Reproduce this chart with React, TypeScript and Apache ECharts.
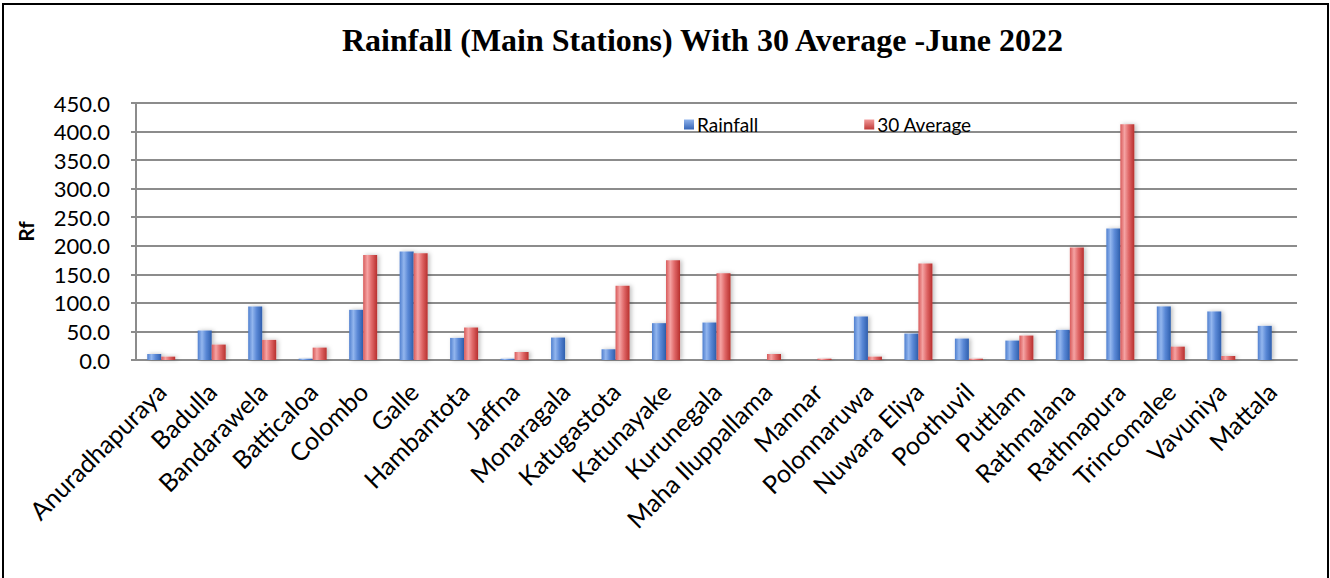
import React, { useEffect, useRef } from "react";
import * as echarts from "echarts";

const stations = [
  "Anuradhapuraya", "Badulla", "Bandarawela", "Batticaloa", "Colombo", "Galle",
  "Hambantota", "Jaffna", "Monaragala", "Katugastota", "Katunayake", "Kurunegala",
  "Maha Iluppallama", "Mannar", "Polonnaruwa", "Nuwara Eliya", "Poothuvil", "Puttlam",
  "Rathmalana", "Rathnapura", "Trincomalee", "Vavuniya", "Mattala",
];
const rainfall = [
  10.5, 51.6, 93.8, 2.3, 87.9, 189.9, 38.7, 2.3, 39.3, 18.8, 64.5, 65.6,
  0, 0, 76.2, 46.3, 37.5, 34.0, 52.8, 230.4, 93.8, 85.0, 59.8,
];
const average30 = [
  5.9, 27.0, 35.2, 21.7, 184.0, 187.0, 56.9, 14.0, 0, 130.0, 174.7, 151.8,
  10.5, 2.3, 5.9, 168.8, 2.3, 42.8, 197.0, 413.0, 23.4, 7.0, 0,
];
const seriesNames = ["Rainfall", "30 Average"];
const chartTitle = "Rainfall (Main Stations) With 30 Average -June 2022";
const yAxisName = "Rf";

const FONT = "Lato, 'Open Sans', sans-serif";

const blueGrad = new echarts.graphic.LinearGradient(0, 0, 1, 0, [
  { offset: 0, color: "#4f7fcf" },
  { offset: 0.3, color: "#93b6ee" },
  { offset: 0.6, color: "#5a88d6" },
  { offset: 1, color: "#2f5fae" },
]);
const redGrad = new echarts.graphic.LinearGradient(0, 0, 1, 0, [
  { offset: 0, color: "#d85a5a" },
  { offset: 0.3, color: "#f5a3a3" },
  { offset: 0.6, color: "#e06868" },
  { offset: 1, color: "#b8302e" },
]);
const blueLegend = new echarts.graphic.LinearGradient(0, 0, 0, 1, [
  { offset: 0, color: "#8fb3ec" },
  { offset: 1, color: "#3565b8" },
]);
const redLegend = new echarts.graphic.LinearGradient(0, 0, 0, 1, [
  { offset: 0, color: "#f29a9a" },
  { offset: 1, color: "#c03a38" },
]);

export default function App() {
  const ref = useRef<HTMLDivElement>(null);
  useEffect(() => {
    if (!ref.current) return;
    const chart = echarts.init(ref.current, null, { renderer: "svg" });
    chart.setOption({
      animation: false,
      backgroundColor: "#ffffff",
      title: {
        text: chartTitle,
        left: 337,
        top: 19,
        textStyle: {
          fontFamily: "'Liberation Serif', 'Times New Roman', serif",
          fontWeight: "bold",
          fontSize: 32,
          color: "#000",
        },
      },
      legend: {
        left: 679,
        top: 110,
        itemGap: 106,
        itemWidth: 10,
        itemHeight: 10,
        icon: "rect",
        textStyle: { fontFamily: FONT, fontSize: 19, color: "#000", padding: [0, 0, 0, -2] },
        data: [
          { name: seriesNames[0], itemStyle: { color: blueLegend } },
          { name: seriesNames[1], itemStyle: { color: redLegend } },
        ],
      },
      grid: { left: 136, right: 33, top: 103, bottom: 218, containLabel: false },
      xAxis: {
        type: "category",
        data: stations,
        axisLine: { show: true, lineStyle: { color: "#8c8c8c", width: 2 } },
        axisTick: { show: false },
        axisLabel: {
          interval: 0,
          rotate: 45,
          fontFamily: FONT,
          fontSize: 25,
          color: "#000",
          margin: 27,
        },
      },
      yAxis: {
        type: "value",
        min: 0,
        max: 450,
        interval: 50,
        name: yAxisName,
        nameLocation: "middle",
        nameGap: 100,
        nameRotate: 90,
        nameTextStyle: { fontFamily: FONT, fontSize: 21, fontWeight: "bold", color: "#000" },
        axisLine: { show: true, lineStyle: { color: "#8c8c8c", width: 2 } },
        axisTick: { show: true, length: 5, lineStyle: { color: "#8c8c8c", width: 2 } },
        splitLine: { show: true, lineStyle: { color: "#8c8c8c", width: 2 } },
        axisLabel: {
          fontFamily: FONT,
          fontSize: 22,
          color: "#000",
          margin: 26,
          formatter: (v: number) => v.toFixed(1),
        },
      },
      series: [
        {
          name: seriesNames[0],
          type: "bar",
          data: rainfall,
          barWidth: 14,
          barGap: "0%",
          itemStyle: {
            color: blueGrad,
            shadowColor: "rgba(0,0,0,0.25)",
            shadowBlur: 4,
            shadowOffsetX: 2,
          },
        },
        {
          name: seriesNames[1],
          type: "bar",
          data: average30,
          barWidth: 14,
          itemStyle: {
            color: redGrad,
            shadowColor: "rgba(0,0,0,0.25)",
            shadowBlur: 4,
            shadowOffsetX: 2,
          },
        },
      ],
      graphic: [
        {
          type: "rect",
          shape: { x: 3, y: 4, width: 1325, height: 620 },
          style: { fill: "none", stroke: "#000", lineWidth: 2 },
          silent: true,
        },
      ],
    });
    return () => chart.dispose();
  }, []);
  return (
    <div
      ref={ref}
      style={{ position: "absolute", left: 0, top: 0, width: 1330, height: 578 }}
    />
  );
}
